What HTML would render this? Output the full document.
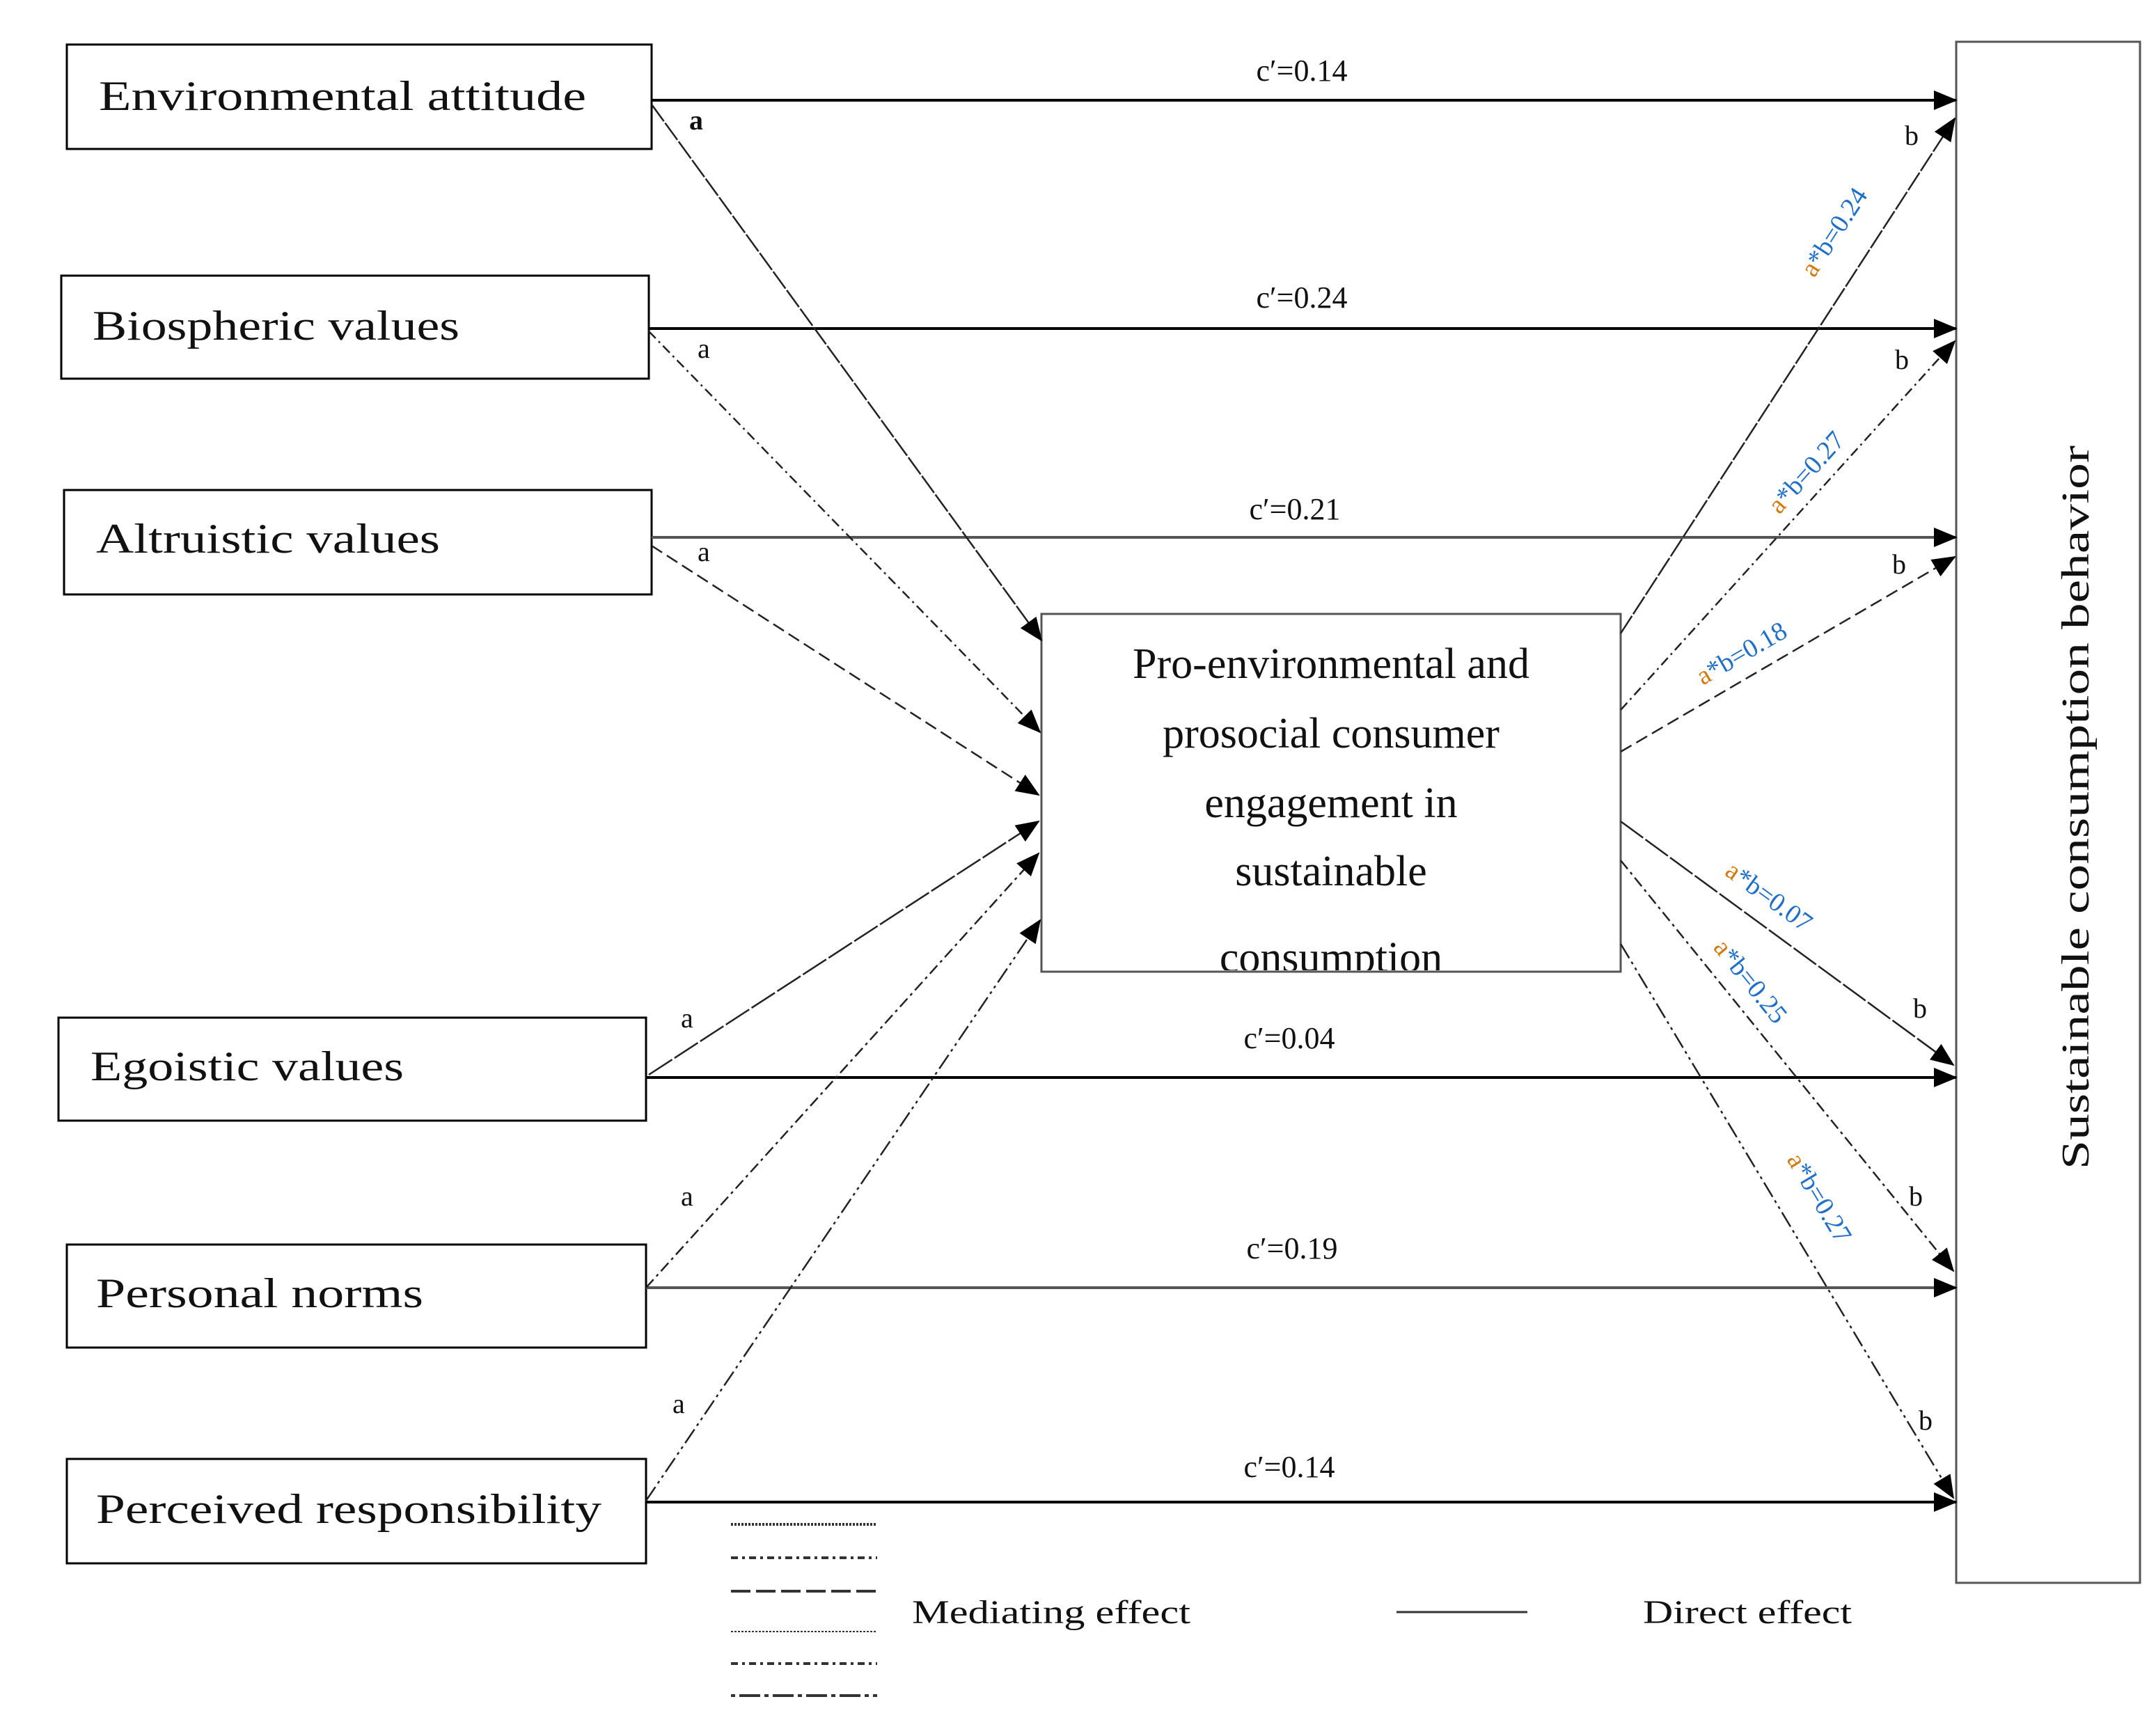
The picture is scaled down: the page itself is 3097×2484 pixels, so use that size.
<!DOCTYPE html>
<html><head><meta charset="utf-8"><style>html,body{margin:0;padding:0;background:#fff}svg{display:block}</style></head>
<body>
<svg width="3097" height="2484" viewBox="0 0 3097 2484" xmlns="http://www.w3.org/2000/svg" font-family="'Liberation Serif', serif">
<defs>
<marker id="ah" markerUnits="userSpaceOnUse" markerWidth="34" markerHeight="28" refX="32" refY="14" orient="auto"><path d="M0,0 L34,14 L0,28 Z" fill="#000"/></marker>
</defs>
<g fill="#fff" stroke="#000" stroke-width="3">
<rect x="96" y="64" width="840" height="150"/>
<rect x="88" y="396" width="844" height="148"/>
<rect x="92" y="704" width="844" height="150"/>
<rect x="84" y="1462" width="844" height="148"/>
<rect x="96" y="1788" width="832" height="148"/>
<rect x="96" y="2096" width="832" height="150"/>
<rect x="1496" y="882" width="832" height="514" stroke="#555"/>
<rect x="2810" y="60" width="264" height="2214" stroke="#555"/>
</g>
<g font-size="60" fill="#111">
<text x="142" y="158" textLength="700" lengthAdjust="spacingAndGlyphs">Environmental attitude</text>
<text x="133" y="488" textLength="527" lengthAdjust="spacingAndGlyphs">Biospheric values</text>
<text x="138" y="794" textLength="494" lengthAdjust="spacingAndGlyphs">Altruistic values</text>
<text x="130" y="1552" textLength="450" lengthAdjust="spacingAndGlyphs">Egoistic values</text>
<text x="138" y="1878" textLength="470" lengthAdjust="spacingAndGlyphs">Personal norms</text>
<text x="138" y="2188" textLength="726" lengthAdjust="spacingAndGlyphs">Perceived responsibility</text>
</g>
<svg x="1496" y="882" width="832" height="512" overflow="hidden">
<g font-size="62" fill="#111" text-anchor="middle">
<text x="416" y="92">Pro-environmental and</text>
<text x="416" y="192">prosocial consumer</text>
<text x="416" y="292">engagement in</text>
<text x="416" y="390">sustainable</text>
<text x="416" y="514">consumption</text>
</g></svg>
<text transform="translate(3000,1160) rotate(-90)" text-anchor="middle" font-size="56" fill="#111" textLength="1040" lengthAdjust="spacingAndGlyphs">Sustainable consumption behavior</text>
<g stroke="#000" stroke-width="4" marker-end="url(#ah)">
<line x1="936" y1="144" x2="2810" y2="144"/>
<line x1="932" y1="472" x2="2810" y2="472"/>
<line x1="936" y1="772" x2="2810" y2="772" stroke="#555"/>
<line x1="928" y1="1548" x2="2810" y2="1548"/>
<line x1="928" y1="1850" x2="2810" y2="1850" stroke="#555"/>
<line x1="928" y1="2158" x2="2810" y2="2158"/>
</g>
<g font-size="44" fill="#111" text-anchor="middle">
<text x="1870" y="116">c′=0.14</text>
<text x="1870" y="442">c′=0.24</text>
<text x="1860" y="746">c′=0.21</text>
<text x="1852" y="1506">c′=0.04</text>
<text x="1856" y="1808">c′=0.19</text>
<text x="1852" y="2122">c′=0.14</text>
</g>
<g stroke="#222" stroke-width="2.5" fill="none" marker-end="url(#ah)">
<line x1="936" y1="150" x2="1496" y2="920" stroke-dasharray="30,3"/>
<line x1="932" y1="476" x2="1494" y2="1052" stroke-dasharray="14,6,3,6"/>
<line x1="936" y1="784" x2="1492" y2="1142" stroke-dasharray="18,8"/>
<line x1="932" y1="1544" x2="1492" y2="1180" stroke-dasharray="40,4"/>
<line x1="928" y1="1850" x2="1492" y2="1226" stroke-dasharray="16,6,4,6"/>
<line x1="928" y1="2156" x2="1494" y2="1322" stroke-dasharray="24,6,4,6,4,6"/>
</g>
<g font-size="40" fill="#111">
<text x="990" y="186" font-weight="bold">a</text>
<text x="1002" y="514">a</text>
<text x="1002" y="806">a</text>
<text x="978" y="1476">a</text>
<text x="978" y="1732">a</text>
<text x="966" y="2030">a</text>
</g>
<g stroke="#222" stroke-width="2.5" fill="none" marker-end="url(#ah)">
<line x1="2328" y1="910" x2="2808" y2="170" stroke-dasharray="30,3"/>
<line x1="2328" y1="1020" x2="2808" y2="490" stroke-dasharray="14,6,3,6"/>
<line x1="2328" y1="1080" x2="2808" y2="800" stroke-dasharray="18,8"/>
<line x1="2328" y1="1180" x2="2806" y2="1530" stroke-dasharray="40,4"/>
<line x1="2328" y1="1236" x2="2806" y2="1826" stroke-dasharray="16,6,4,6"/>
<line x1="2328" y1="1356" x2="2806" y2="2152" stroke-dasharray="24,6,4,6,4,6"/>
</g>
<g font-size="40" fill="#111">
<text x="2736" y="208">b</text>
<text x="2722" y="530">b</text>
<text x="2718" y="824">b</text>
<text x="2748" y="1462">b</text>
<text x="2742" y="1732">b</text>
<text x="2756" y="2054">b</text>
</g>
<g font-size="38" fill="#1f6fc8">
<text transform="translate(2606,400) rotate(-57)"><tspan fill="#d27a10">a</tspan>*b=0.24</text>
<text transform="translate(2556,740) rotate(-48)"><tspan fill="#d27a10">a</tspan>*b=0.27</text>
<text transform="translate(2446,985) rotate(-30)"><tspan fill="#d27a10">a</tspan>*b=0.18</text>
<text transform="translate(2476,1256) rotate(36)"><tspan fill="#d27a10">a</tspan>*b=0.07</text>
<text transform="translate(2460,1362) rotate(51)"><tspan fill="#d27a10">a</tspan>*b=0.25</text>
<text transform="translate(2566,1666) rotate(59)"><tspan fill="#d27a10">a</tspan>*b=0.27</text>
</g>
<g stroke="#333" stroke-width="4" fill="none">
<line x1="1050" y1="2190" x2="1260" y2="2190" stroke-dasharray="3,2"/>
<line x1="1050" y1="2238" x2="1260" y2="2238" stroke-dasharray="10,6,4,6"/>
<line x1="1050" y1="2286" x2="1260" y2="2286" stroke-dasharray="28,8"/>
<line x1="1050" y1="2344" x2="1260" y2="2344" stroke-dasharray="3,2" stroke-width="2"/>
<line x1="1050" y1="2390" x2="1260" y2="2390" stroke-dasharray="10,6,4,6"/>
<line x1="1050" y1="2436" x2="1260" y2="2436" stroke-dasharray="6,6,30,6"/>
<line x1="2006" y1="2316" x2="2194" y2="2316" stroke-width="3"/>
</g>
<g font-size="48" fill="#111">
<text x="1310" y="2332" textLength="400" lengthAdjust="spacingAndGlyphs">Mediating effect</text>
<text x="2360" y="2332" textLength="300" lengthAdjust="spacingAndGlyphs">Direct effect</text>
</g>
</svg>
</body></html>
